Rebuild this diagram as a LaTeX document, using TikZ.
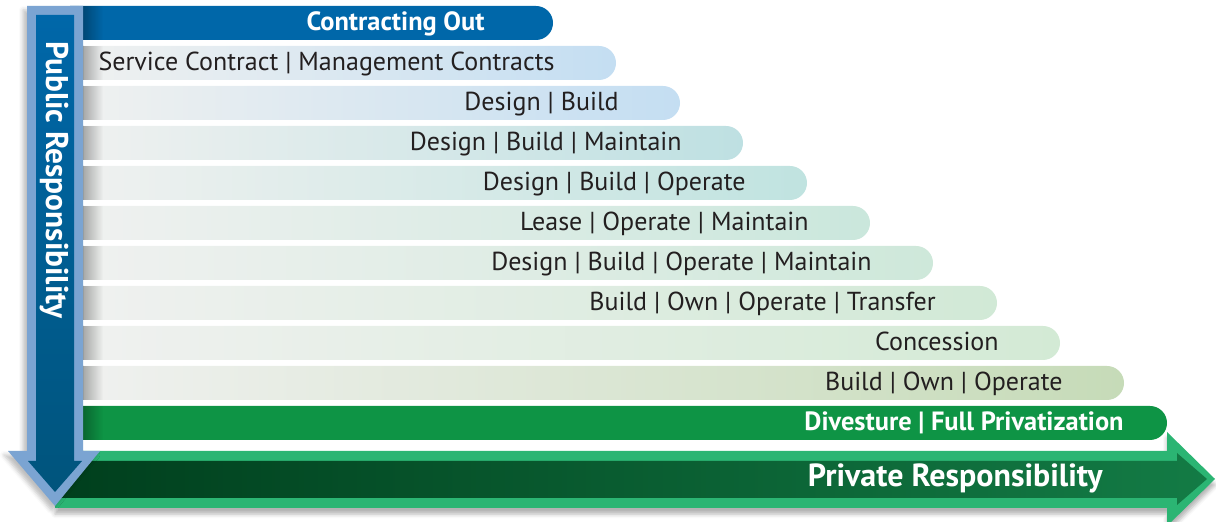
\documentclass[tikz,border=0pt]{standalone}
\usepackage{fontspec}
\setmainfont{PT Sans}
\usetikzlibrary{fadings,shadows.blur}
\definecolor{pubblue}{HTML}{0067A9}
\definecolor{pubdark}{HTML}{00547C}
\definecolor{pubframe}{HTML}{7BA4D2}
\definecolor{privgreen}{HTML}{2BB573}
\definecolor{privdark}{HTML}{003F1D}
\definecolor{privmid}{HTML}{137B45}
\definecolor{fullgreen}{HTML}{0E9445}
\definecolor{txtgray}{HTML}{231F20}
\definecolor{barleft}{HTML}{F0F1F0}
\definecolor{rowb}{HTML}{C4DEF2}
\definecolor{rowc}{HTML}{BEE0E2}
\definecolor{rowd}{HTML}{C0E3E0}
\definecolor{rowe}{HTML}{CAE7DC}
\definecolor{rowf}{HTML}{CEE8DA}
\definecolor{rowg}{HTML}{D1E9D6}
\definecolor{rowh}{HTML}{D3EAD5}
\definecolor{rowi}{HTML}{C6DBB8}
\tikzfading[name=fade right, left color=transparent!0, right color=transparent!100]

\begin{document}
\begin{tikzpicture}[x=0.5pt,y=-0.5pt,
  lbl/.style={anchor=base east,inner sep=0pt,text=txtgray,font=\fontsize{13}{15}\selectfont},
  boldlbl/.style={anchor=base east,inner sep=0pt,text=white,font=\fontsize{13.2}{15}\selectfont\bfseries},
  bigwhite/.style={inner sep=0pt,text=white,font=\fontsize{16}{18}\selectfont\bfseries}]
\clip (0,0) rectangle (1216,522);

% private arrow
\fill[privgreen,blur shadow={shadow xshift=0pt,shadow yshift=-3pt,shadow opacity=30}]
  (55,451) -- (1167,451) -- (1167,432) -- (1215,479) -- (1167,526) -- (1167,508) -- (55,508) -- cycle;
\shade[left color=privdark,right color=privmid]
  (60,461) -- (1177,461) -- (1177,453) -- (1207,479) -- (1177,505) -- (1177,498) -- (60,498) -- cycle;

% bars
\fill[pubblue] (70,6) -- (536,6) arc (90:-90:8.5pt) -- (70,40) -- cycle;
\fill[black,opacity=0.3,path fading=fade right] (83,6) rectangle (103,40);
\foreach \rr/\col/\txt [count=\i from 2] in {
  616/rowb/Service Contract | Management Contracts,
  680/rowb/Design | Build,
  743/rowc/Design | Build | Maintain,
  807/rowd/Design | Build | Operate,
  870/rowe/Lease | Operate | Maintain,
  933/rowf/Design | Build | Operate | Maintain,
  997/rowg/Build | Own | Operate | Transfer,
  1060/rowh/Concession,
  1124/rowi/Build | Own | Operate}
{
  \pgfmathsetmacro\tp{6+40*(\i-1)}
  \shade[left color=barleft,right color=\col] (70,\tp) -- (\rr-17,\tp) arc (90:-90:8.5pt) -- (70,\tp+34) -- cycle;
  \fill[black,opacity=0.3,path fading=fade right] (83,\tp) rectangle (103,\tp+34);
  \node[lbl] (r\i) at (\rr-61,\tp+25) {\txt};
}
\fill[fullgreen] (70,406) -- (1150,406) arc (90:-90:8.5pt) -- (70,440) -- cycle;
\fill[black,opacity=0.3,path fading=fade right] (83,406) rectangle (103,440);

% public arrow
\fill[pubframe,blur shadow={shadow xshift=-2pt,shadow yshift=-2pt,shadow opacity=25}]
  (27,6) -- (83,6) -- (83,451) -- (100,451) -- (55,506) -- (8,451) -- (27,451) -- cycle;
\shade[top color=pubblue,bottom color=pubdark]
  (36,15) -- (74,15) -- (74,461) -- (82,461) -- (55,492) -- (28,461) -- (36,461) -- cycle;

\node[boldlbl] (r1) at (485,31) {Contracting Out};
\node[boldlbl] (r11) at (1124,431) {Divesture | Full Privatization};
\node[bigwhite,anchor=base east] (priv) at (1103,487) {Private Responsibility};
\node[bigwhite,font=\fontsize{15.7}{18}\selectfont\bfseries,rotate=-90] (pub) at (54,180) {Public Responsibility};
\end{tikzpicture}
\end{document}
